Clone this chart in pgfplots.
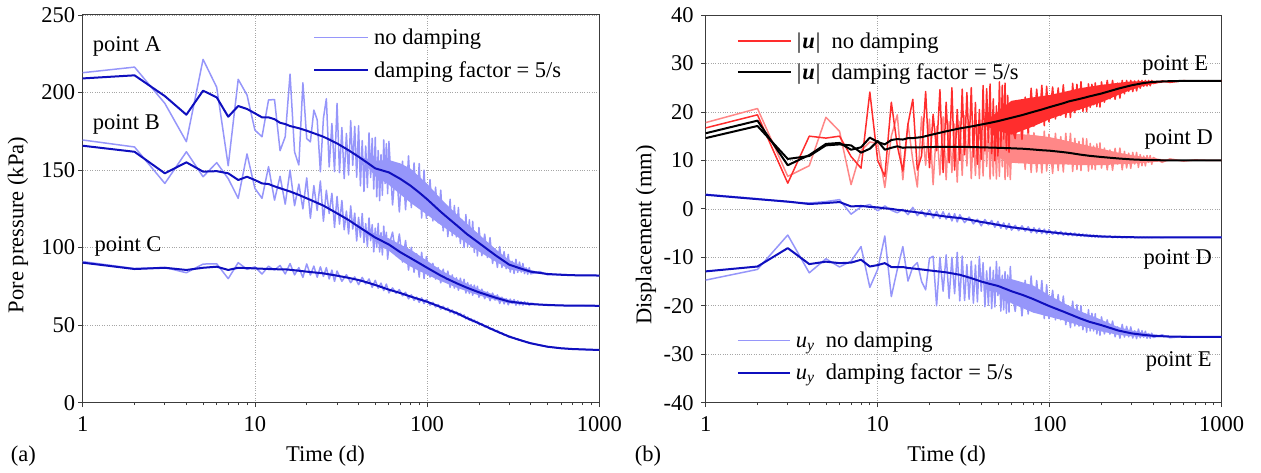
\documentclass[border=0pt]{standalone}
\usepackage{fontspec}
\setmainfont{Liberation Serif}
\usepackage{pgfplots}
\usepackage{pgfplotstable}
\pgfplotsset{compat=1.18}
\definecolor{lblue}{RGB}{150,150,250}
\definecolor{dblue}{RGB}{15,15,190}
\definecolor{redE}{RGB}{255,45,45}
\definecolor{redD}{RGB}{255,135,135}
\definecolor{axgray}{RGB}{60,60,60}
\newcommand{\fs}{\fontsize{22.5}{26}\selectfont}

% left panel, no damping
\pgfplotstableread{
t A B C
1 212.8 169.4 91.0
2 216.4 164.9 86.5
3 193.0 141.4 87.2
4 168.3 161.8 83.8
5 221.4 145.7 89.4
6 203.4 154.8 89.6
7 152.8 144.5 80.0
8 208.5 131.8 90.3
9 198.4 160.4 86.0
10 175.8 138.2 87.6
11 171.5 131.8 83.0
12 195.2 152.2 88.0
13 195.5 130.6 85.5
14 162.5 146 88.5
15 171.5 128 83.0
16 211.9 150 89.7
17 161.6 127 82.4
18 153.3 141 87.1
19 206.3 125 80.8
20 170.3 145 89.5
21 168.2 119 82.3
22 188.7 140 88.1
23 182.5 124 80.9
24 148.9 143 87.6
25 183.4 117 81.4
26 196 137 87.1
27 152 122 79.8
28 180 135 85.5
29 149 113 78.2
30 193 133 84.9
31 148.3 115.2 nan
32 177.4 130.4 78.3
33 144.5 111.5 nan
34 173.6 123.6 82.5
35 146.8 108.8 nan
36 181.9 126.9 77.4
37 153.1 112.0 nan
38 178.2 122.2 81.1
39 145.4 104.3 nan
40 178.6 119.5 76.1
41 139.8 106.8 nan
42 169.0 122.0 80.8
43 136.2 103.3 nan
44 165.5 115.5 76.6
45 138.7 100.8 nan
46 174.0 119.1 79.8
47 145.2 104.5 nan
48 170.5 114.8 74.4
49 137.8 97.2 nan
50 171.1 112.5 78.9
51 132.8 100.1 nan
52 162.6 115.6 73.8
53 130.3 97.2 nan
54 160.0 109.7 77.1
55 133.8 95.3 nan
56 169.5 113.8 72.3
57 141.3 99.4 nan
58 167.0 109.9 76.5
59 134.8 92.5 nan
60 168.5 101.0 70.8
63 127.5 110.0 74.0
66 154.2 94.9 70.6
69 123.0 108.8 72.9
72 155.7 90.7 68.9
75 124.4 104.6 71.2
78 159.1 85.5 67.0
81 125.8 100.2 69.6
84 154.6 84.1 66.0
87 127.4 96.0 68.1
90 154.2 81.0 64.7
93 119.1 97.0 67.6
96 150.0 80.0 63.9
99 119.0 94.2 66.5
104 143.8 81.0 62.9
108 117.2 89.9 64.7
112 139.0 79.7 61.7
116 116.0 87.1 63.3
120 137.1 77.3 60.3
124 110.8 86.1 62.2
128 127.3 78.2 59.8
132 107.1 84.9 61.1
136 131.2 74.4 58.2
140 107.7 82.4 59.8
144 127.2 73.9 57.2
148 106.9 80.6 58.5
152 125.9 72.5 56.2
156 102.7 80.3 57.6
160 117.5 73.8 55.6
164 100.0 79.6 56.6
168 121.3 70.7 54.1
172 100.8 77.5 55.3
176 117.9 70.4 53.2
180 100.4 76.1 54.2
184 117.0 69.3 52.2
188 96.9 75.8 53.3
192 109.8 70.5 51.7
196 94.6 75.1 52.4
200 113.0 68.0 50.4
208 94.8 73.2 51.0
216 108.7 67.1 48.9
224 93.6 71.4 49.3
232 106.4 65.8 47.4
240 89.8 70.7 47.8
248 99.3 66.2 46.2
256 87.2 69.5 46.6
264 100.6 64.0 44.7
272 87.2 68.0 45.1
280 97.4 63.7 43.6
288 86.4 67.0 43.8
296 95.6 63.1 42.4
304 84.2 66.8 42.8
312 91.2 64.0 41.7
320 83.3 66.5 42.0
328 92.5 62.9 40.9
336 84.0 65.7 41.2
344 90.7 63.1 40.3
352 84.2 65.2 40.5
360 89.8 62.9 39.6
368 83.2 65.1 39.8
376 87.0 63.3 38.9
384 82.8 64.7 39.1
392 87.1 62.8 38.4
400 83.1 64.2 38.5
450 84.6 63.2 37.1
500 82.5 63.3 36.1
600 82.7 62.7 35.1
700 82.2 62.6 34.6
850 82.1 62.5 34.2
1000 82.0 62.5 34.0
}\ndL

% left panel, damping factor 5/s
\pgfplotstableread{
t A B C
1 209.1 165.7 90.3
2 211.1 161.8 86.2
3 197.7 147.9 87.0
4 185.7 155.0 85.6
5 201.2 149.0 87.0
6 196.9 149.3 87.7
7 184.4 147.9 85.6
8 191.3 143.6 87.0
9 189.4 145.7 86.8
10 186.6 143.6 86.6
11 184.0 141.4 86.4
12 184.0 141.0 86.2
13 182.8 139.5 86.1
14 180.5 138.3 86.0
15 179.7 137.2 86.0
16 178.4 136.2 85.7
18 177.0 134.0 85.1
20 175.4 131.8 84.5
25 171.5 127.1 83.4
30 167.2 122.1 81.9
35 162.8 117.8 80.5
40 158.6 113.5 79.1
45 154.7 109.8 77.5
50 151.1 106.5 75.9
60 148.5 102.0 72.9
70 144.3 97.0 70.7
80 140.0 93.3 68.5
90 135.5 90.0 66.7
100 131.2 87.0 65.1
120 123.1 82.0 61.7
130 119.8 80.0 60.2
150 114.0 76.8 57.6
170 108.8 74.2 54.6
200 103.0 71.2 51.2
250 95.0 67.7 46.3
300 89.0 65.2 42.6
350 86.5 64.3 40.2
400 84.5 63.6 38.3
500 83.0 63.0 36.1
600 82.5 62.7 35.1
700 82.2 62.6 34.6
1000 82.0 62.5 34.0
}\dmL

% right panel, no damping
\pgfplotstableread{
t Eu Du Ey Dy
1 16.7 17.8 -14.7 3.0
2 19.4 20.7 -12.5 2.1
3 5.3 6.7 -5.4 1.4
4 15.0 8.9 -13.2 1.2
5 14.6 18.9 -10.3 1.5
6 15.0 16.0 -12.0 1.9
7 10.8 5.0 -10.8 -1.1
8 8.4 12.0 -7.8 0.4
9 24.1 13.8 -16.2 0.9
10 10.0 13.5 -12.5 -0.4
11 6.7 4.4 -5.6 0.6
12 22.0 15.0 -18.1 -0.3
13 13.0 19.4 -12.5 -0.8
14 7.8 6.0 -7.8 -0.1
15 17.5 17.6 -14.9 -1.2
16 22.6 10.0 -12.0 0.3
17 8.0 4.5 -11.1 -1.4
18 11.0 19.0 -15.0 -0.4
19 24.2 9.0 -16.7 -1.6
20 8.5 18.5 -10.2 -0.2
21 19.5 5.0 -9.8 -1.9
22 12.0 17.0 -20.0 -0.5
23 24.6 7.0 -10.0 -2.0
24 7.5 19.0 -17.0 -0.6
25 22.0 6.0 -9.5 -2.1
26 9.5 18.0 -18.5 -0.9
27 25.0 7.5 -10.0 -2.5
28 8.0 17.5 -17.5 -1.0
29 20.5 5.5 -9.0 -2.7
30 10.0 18.0 -19.0 -1.2
31 24.7 6.9 -9.75 nan
32 11.15 19.25 -18.9 -2.85
33 24.0 8.85 -11.5 nan
34 12.9 17.95 -18.65 -1.7
35 25.0 6.25 -10.8 nan
36 10.7 16.0 -19.45 -3.1
37 21.95 6.9 -11.6 nan
38 9.2 17.3 -19.2 -2.15
39 20.5 6.25 -9.85 nan
40 10.2 16.65 -17.0 -3.5
41 25.45 6.8 -11.1 nan
42 11.95 19.15 -20.2 -2.2
43 24.8 8.75 -12.8 nan
44 13.7 17.85 -19.9 -3.3
45 25.75 6.15 -12.0 nan
46 11.4 15.9 -20.6 -2.4
47 22.7 6.8 -12.7 nan
48 9.95 17.2 -20.25 -3.8
49 21.25 6.15 -10.85 nan
50 10.9 16.55 -17.9 -2.6
51 26.2 6.7 -12.0 nan
52 12.65 19.05 -21.1 -4.0
53 25.5 8.65 -13.7 nan
54 14.4 17.75 -20.85 -2.9
55 25.95 6.05 -12.95 nan
56 12.1 15.8 -21.55 -4.2
57 23.4 6.7 -13.65 nan
58 11.65 17.1 -21.3 -3.0
59 21.95 6.05 -11.9 nan
60 17.0 12.0 -16.5 -4.4
63 14.5 17.3 -21.15 -3.4
66 21.7 9.5 -15.05 -4.5
69 14.35 17.2 -22.1 -3.5
72 23.05 8.15 -14.75 -4.6
75 15.7 17.1 -21.7 -3.7
78 24.9 7.5 -13.85 -4.9
81 17.05 15.7 -21.3 -3.9
84 24.7 7.6 -14.8 -5.0
87 18.3 14.4 -20.9 -4.0
90 25.5 7.4 -14.8 -5.1
93 17.15 16.05 -22.65 -4.2
96 25.3 7.8 -15.65 -5.2
99 17.95 15.4 -22.65 -4.3
104 25.15 7.3 -16.8 -5.25
108 18.55 15.6 -22.9 -4.55
112 24.95 7.9 -17.7 -5.3
116 19.3 14.9 -22.9 -4.65
120 25.6 7.6 -18.0 -5.45
124 18.9 15.6 -23.9 -4.85
128 23.85 9.25 -20.05 -5.5
132 18.85 15.6 -24.5 -4.95
136 25.9 7.7 -19.05 -5.55
140 19.85 14.55 -24.15 -5.0
144 25.7 8.1 -19.8 -5.6
148 20.5 13.9 -24.2 -5.1
152 26.25 7.9 -20.0 -5.65
156 20.1 14.6 -24.95 -5.2
160 24.65 9.25 -21.7 -5.7
164 20.05 14.45 -25.45 -5.25
168 25.8 7.8 -20.8 -5.75
172 20.95 13.5 -25.2 -5.35
176 25.7 8.2 -21.55 -5.8
180 21.5 12.95 -25.2 -5.4
184 26.0 8.1 -21.65 -5.85
188 21.1 13.4 -25.8 -5.45
192 25.2 9.2 -23.1 -5.87
196 21.0 13.6 -26.1 -5.5
200 26.2 8.4 -22.3 -5.9
208 22.0 12.55 -25.8 -5.55
216 26.5 8.05 -22.9 -5.9
224 22.7 12.15 -25.85 -5.6
232 26.5 7.95 -23.15 -5.95
240 22.6 12.5 -26.4 -5.65
248 25.95 9.25 -24.35 -5.95
256 22.85 12.55 -26.7 -5.7
264 26.5 8.05 -23.85 -5.95
272 23.75 11.85 -26.45 -5.72
280 26.5 8.45 -24.25 -5.97
288 24.25 11.5 -26.4 -5.75
296 26.5 8.35 -24.35 -5.97
304 24.2 11.65 -26.65 -5.78
312 26.4 9.25 -25.15 -5.97
320 24.35 11.65 -26.8 -5.8
328 26.5 8.55 -24.8 -5.97
336 24.9 11.2 -26.6 -5.82
344 26.5 8.9 -25.15 -5.97
352 25.3 10.9 -26.5 -5.84
360 26.5 8.85 -25.25 -5.96
368 25.35 11.0 -26.7 -5.85
376 26.5 9.6 -25.75 -5.95
384 25.4 11.0 -26.7 -5.86
392 26.5 9.2 -25.65 -5.94
400 25.85 10.6 -26.55 -5.88
450 26.4 9.6 -26.0 -5.92
500 26.1 10.3 -26.6 -5.88
600 26.45 9.85 -26.3 -5.9
700 26.35 10.1 -26.45 -5.9
850 26.4 10.0 -26.4 -5.9
1000 26.4 10.0 -26.4 -5.9
}\ndR

% right panel, damping factor 5/s
\pgfplotstableread{
t Ed Dd Eyd Dyd
1 15.6 14.6 -12.9 2.9
2 18.2 17.1 -11.9 2.0
3 9.0 10.3 -8.1 1.5
4 11.1 10.9 -11.4 1.0
5 13.4 13.1 -10.9 1.2
6 13.6 13.3 -11.2 1.4
7 12.2 13.1 -11.1 0.5
8 12.7 11.6 -10.5 0.6
9 14.7 12.4 -11.9 0.4
10 13.8 14.0 -11.6 0.3
11 13.3 12.2 -11.2 0.1
12 14.2 12.6 -12.0 0.0
13 14.4 12.9 -12.0 -0.2
14 14.3 12.6 -12.0 -0.3
15 14.6 12.7 -12.2 -0.5
16 14.6 12.7 -12.3 -0.6
18 14.8 12.7 -12.5 -0.85
20 15.2 12.75 -12.7 -1.1
25 16.0 12.8 -13.1 -1.6
30 16.6 12.8 -13.6 -1.9
35 17.0 12.75 -14.3 -2.3
40 17.4 12.7 -15.0 -2.7
45 17.75 12.65 -15.5 -3.0
50 18.1 12.6 -15.9 -3.3
60 18.8 12.5 -17.0 -3.8
70 19.4 12.4 -17.8 -4.1
80 20.0 12.25 -18.6 -4.4
90 20.5 12.1 -19.4 -4.6
100 21.0 12.0 -20.1 -4.8
120 21.8 11.7 -21.2 -5.1
130 22.2 11.55 -21.7 -5.2
150 22.7 11.2 -22.6 -5.4
170 23.2 10.95 -23.3 -5.55
200 23.8 10.7 -24.0 -5.7
250 24.8 10.4 -25.1 -5.8
300 25.5 10.2 -25.7 -5.85
350 25.95 10.1 -26.0 -5.9
400 26.2 10.05 -26.2 -5.9
500 26.35 10.0 -26.35 -5.9
600 26.4 10.0 -26.4 -5.9
700 26.4 10.0 -26.4 -5.9
1000 26.4 10.0 -26.4 -5.9
}\dmR

\pgfplotsset{
  /pgfplots/myax/.style={
    scale only axis,
    xmin=1, xmax=1000,
    xtick={1,10,100,1000}, xticklabels={1,10,100,1000},
    minor xtick={2,3,4,5,6,7,8,9,20,30,40,50,60,70,80,90,200,300,400,500,600,700,800,900},
    axis line style={axgray, line width=1pt},
    every tick/.style={axgray, line width=0.8pt},
    major tick length=4.5pt, minor tick length=2.5pt, tick align=outside,
    xtick pos=left, ytick pos=left,
    xmajorgrids, ymajorgrids,
    major grid style={dotted, black!35, line width=0.7pt},
    tick label style={font=\fs},
    /pgf/number format/assume math mode=true,
    xticklabel style={anchor=north, inner sep=0pt, yshift=-9pt},
    yticklabel style={anchor=east, inner sep=0pt},
    legend cell align=left,
    legend style={draw=none, fill=none, font=\fs, inner sep=0pt,
      nodes={inner sep=0pt}, column sep=5pt},
    every axis plot/.append style={line join=round},
    unbounded coords=discard,
  },
  /pgfplots/ndS/.style={lblue, line width=1.5pt},
  /pgfplots/dmS/.style={dblue, line width=2pt},
  /pgfplots/bandS/.style={draw=none, forget plot},
}

\begin{document}
\begin{tikzpicture}
\useasboundingbox (0,0) rectangle (1261pt,472pt);

% ---------- (a) ----------
\begin{semilogxaxis}[myax, anchor=south west, at={(82.7pt,69.3pt)}, width=516.6pt, height=387.7pt,
  ymin=0, ymax=250, ytick={0,50,100,150,200,250},
  yticklabel style={xshift=-3pt},
  legend style={at={(0.4458,0.964)}, anchor=north west, row sep=15.5pt},
  legend image code/.code={\draw[#1] (0pt,0pt) -- (54pt,0pt);}]
% bands of the densely oscillating (no damping) results
\addplot[bandS, fill=lblue] coordinates {
(40,158.6) (50,156.1) (60,156.5) (70,154.3) (80,151) (100,141.2) (120,131.6)
(150,121) (200,108.5) (250,99) (300,92) (350,88.3) (400,85.5) (500,83.3) (600,82.5)
(500,82.7) (400,83.5) (350,84.7) (300,86) (250,91) (200,97.5) (150,107) (120,114.6)
(100,121.2) (80,129) (70,134.3) (60,140.5) (50,146.1)} -- cycle;
\addplot[bandS, fill=lblue] coordinates {
(40,113.5) (50,109) (60,106) (70,102) (80,98.8) (100,91.5) (120,85.5)
(150,79.6) (200,73.2) (250,69.2) (300,66.3) (400,64.1) (500,63.0)
(400,63.1) (300,64.1) (250,66.2) (200,69.2) (150,74.0) (120,78.5) (100,82.5) (80,87.8)
(70,92) (60,98) (50,104)} -- cycle;
\addplot[ndS] table[x=t,y=A]{\ndL}; \addlegendentry{no damping}
\addplot[ndS, forget plot] table[x=t,y=B]{\ndL};
\addplot[ndS, forget plot] table[x=t,y=C]{\ndL};
\addplot[dmS] table[x=t,y=A]{\dmL}; \addlegendentry{damping factor = 5/s}
\addplot[dmS, forget plot] table[x=t,y=B]{\dmL};
\addplot[dmS, forget plot] table[x=t,y=C]{\dmL};
\end{semilogxaxis}

% ---------- (b) |u| ----------
\begin{semilogxaxis}[myax, anchor=south west, at={(705.7pt,69.3pt)}, width=516pt, height=387.7pt,
  ymin=-40, ymax=40, ytick={-40,-30,-20,-10,0,10,20,30,40},
  yticklabel style={xshift=-7.5pt},
  legend style={at={(0.060,0.9551)}, anchor=north west, row sep=14pt},
  legend image code/.code={\draw[#1] (0pt,0pt) -- (53pt,0pt);}]
\addplot[bandS, fill=redD] coordinates {
(40,12.7) (50,14.6) (60,15.5) (80,15.25) (100,14.8) (120,14.2) (150,13.4)
(200,12.4) (250,11.6) (300,11.1) (350,10.7) (400,10.45) (500,10.1) (600,10.0)
(500,9.9) (400,9.65) (350,9.5) (300,9.3) (250,9.2) (200,9.0) (150,9.0) (120,9.2)
(100,9.2) (80,9.25) (60,9.5) (50,10.6)} -- cycle;
\addplot[redD, line width=1.5pt, forget plot] table[x=t,y=Du]{\ndR};
\addplot[bandS, fill=redE] coordinates {
(40,17.4) (50,20.1) (60,22.3) (80,23.0) (100,23.5) (120,24.1) (150,24.9)
(200,25.6) (250,26.0) (300,26.3) (350,26.35) (400,26.4) (500,26.35) (600,26.4)
(500,26.25) (400,25.8) (350,25.35) (300,24.6) (250,23.5) (200,22.0) (150,20.5)
(120,19.5) (100,18.5) (80,17.0) (60,15.3) (50,16.1)} -- cycle;
\addplot[redE, line width=1.5pt] table[x=t,y=Eu]{\ndR};
\addlegendentry{|\kern1pt\textbf{\textit{u}}\kern1pt|~~no damping}
\addplot[black, line width=2pt] table[x=t,y=Ed]{\dmR};
\addlegendentry{|\kern1pt\textbf{\textit{u}}\kern1pt|~~damping factor = 5/s}
\addplot[black, line width=2pt, forget plot] table[x=t,y=Dd]{\dmR};
\end{semilogxaxis}

% ---------- (b) u_y ----------
\begin{semilogxaxis}[myax, anchor=south west, at={(705.7pt,69.3pt)}, width=516pt, height=387.7pt,
  ymin=-40, ymax=40, hide axis,
  legend style={at={(0.060,0.1831)}, anchor=north west, row sep=15pt},
  legend image code/.code={\draw[#1] (0pt,0pt) -- (52pt,0pt);}]
\addplot[bandS, fill=lblue] coordinates {
(40,-15.0) (50,-14.4) (60,-14.5) (80,-15.8) (100,-17.9) (120,-19.4) (150,-21.1)
(200,-22.9) (250,-24.4) (300,-25.1) (400,-25.9) (500,-26.25) (600,-26.4)
(500,-26.45) (400,-26.5) (300,-26.3) (250,-26.0) (200,-25.3) (150,-24.1) (120,-23.0)
(100,-22.3) (80,-21.4) (60,-19.5) (50,-17.4)} -- cycle;
\addplot[ndS] table[x=t,y=Ey]{\ndR};
\addlegendentry{\textit{u}\textsubscript{\textit{y}}~~no damping}
\addplot[ndS, forget plot] table[x=t,y=Dy]{\ndR};
\addplot[dmS] table[x=t,y=Eyd]{\dmR};
\addlegendentry{\textit{u}\textsubscript{\textit{y}}~~damping factor = 5/s}
\addplot[dmS, forget plot] table[x=t,y=Dyd]{\dmR};
\end{semilogxaxis}

% ---------- texts ----------
\begin{scope}[every node/.style={font=\fs, inner sep=0pt}]
\node[anchor=west] at (92.7pt,425.3pt) {point A};
\node[anchor=west] at (92.7pt,348pt) {point B};
\node[anchor=west] at (94.3pt,225.3pt) {point C};
\node[anchor=east] at (1208.3pt,407pt) {point E};
\node[anchor=east] at (1213pt,332.7pt) {point D};
\node[anchor=east] at (1212pt,212.7pt) {point D};
\node[anchor=east] at (1211.7pt,111pt) {point E};
\node at (325.5pt,16pt) {Time (d)};
\node at (946.7pt,16pt) {Time (d)};
\node at (23.3pt,16pt) {(a)};
\node at (648pt,16pt) {(b)};
\node[rotate=90] at (18pt,247pt) {Pore pressure (kPa)};
\node[rotate=90] at (646pt,237pt) {Displacement (mm)};
\end{scope}
\end{tikzpicture}
\end{document}
